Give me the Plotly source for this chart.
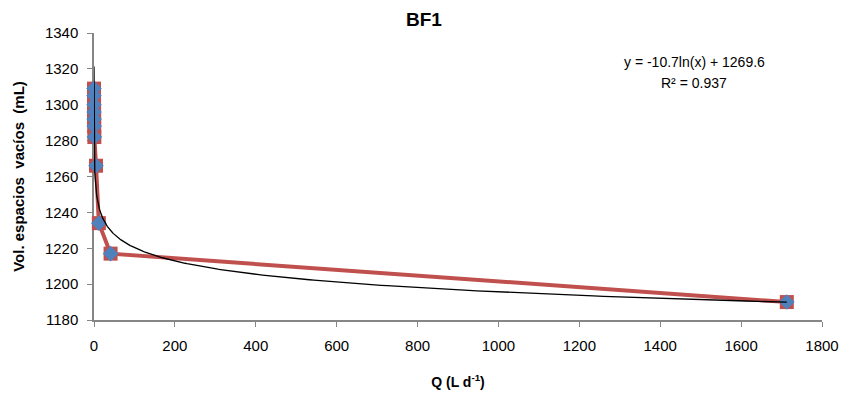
import numpy as np
import plotly.graph_objects as go

# Data
q_values = [0.03, 0.06, 0.1, 0.17, 0.3, 0.5, 0.9, 5, 12, 41, 1713]
vol_values = [1309, 1305, 1300, 1296, 1292, 1288, 1282, 1266, 1234, 1217, 1190]

# Logarithmic trendline as displayed: y = -10.7 ln(x) + 1269.6
trend_a = -10.7
trend_b = 1269.6
trend_label = "y = -10.7ln(x) + 1269.6"
r2_label = "R² = 0.937"

x_ticks = [0, 200, 400, 600, 800, 1000, 1200, 1400, 1600, 1800]
y_ticks = [1180, 1200, 1220, 1240, 1260, 1280, 1300, 1320, 1340]

trend_x = np.geomspace(0.008, max(q_values), 600)
trend_y = trend_a * np.log(trend_x) + trend_b

font_family = "Liberation Sans, Arial, sans-serif"

W, H = 843, 396
ML, MR, MT, MB = 94, 21, 33, 76
plot_w = W - ML - MR
plot_h = H - MT - MB

fig = go.Figure()
fig.add_trace(go.Scatter(
    x=q_values, y=vol_values, mode="lines+markers",
    line=dict(color="#C0504D", width=4),
    marker=dict(symbol="square", size=14, color="#C0504D"),
    cliponaxis=False,
    showlegend=False, hoverinfo="skip",
))
fig.add_trace(go.Scatter(
    x=q_values, y=vol_values, mode="markers",
    marker=dict(symbol="diamond", size=12, color="#4F81BD"),
    cliponaxis=False,
    showlegend=False,
))
fig.add_trace(go.Scatter(
    x=trend_x, y=trend_y, mode="lines",
    line=dict(color="black", width=1.3),
    showlegend=False, hoverinfo="skip",
))

axis_common = dict(
    showgrid=False, zeroline=False, showline=True, linecolor="#868686", linewidth=1.5,
    ticks="outside", tickcolor="#868686", ticklen=5, tickwidth=1,
    ticklabelstandoff=6, layer="below traces",
    tickfont=dict(family=font_family, size=15, color="black"),
)


def px_x(px):
    return (px - ML) / plot_w


def px_y(py):
    return 1 - (py - MT) / plot_h


fig.update_layout(
    width=W, height=H,
    margin=dict(l=ML, r=MR, t=MT, b=MB, autoexpand=False),
    paper_bgcolor="white", plot_bgcolor="white",
    title=dict(text="<b>BF1</b>", x=424 / W, xanchor="center", y=1 - 19 / H, yanchor="middle",
               font=dict(family=font_family, size=19, color="black")),
    xaxis=dict(range=[0, 1800], tickvals=x_ticks,
               title=dict(text="<b>Q (L d<sup>-1</sup>)</b>", standoff=24,
                          font=dict(family=font_family, size=14, color="black")),
               **axis_common),
    yaxis=dict(range=[1180, 1340], tickvals=y_ticks,
               title=dict(text="<b>Vol. espacios  vacíos  (mL)</b>", standoff=17,
                          font=dict(family=font_family, size=15, color="black")),
               **axis_common),
    annotations=[
        dict(x=px_x(694), y=px_y(62), xref="paper", yref="paper", xanchor="center", yanchor="middle",
             text=trend_label, showarrow=False,
             font=dict(family=font_family, size=14, color="black")),
        dict(x=px_x(694), y=px_y(83), xref="paper", yref="paper", xanchor="center", yanchor="middle",
             text=r2_label, showarrow=False,
             font=dict(family=font_family, size=14, color="black")),
    ],
)

fig.write_html("out.html", config={"displayModeBar": False},
               post_script="document.body.style.margin='0';")
